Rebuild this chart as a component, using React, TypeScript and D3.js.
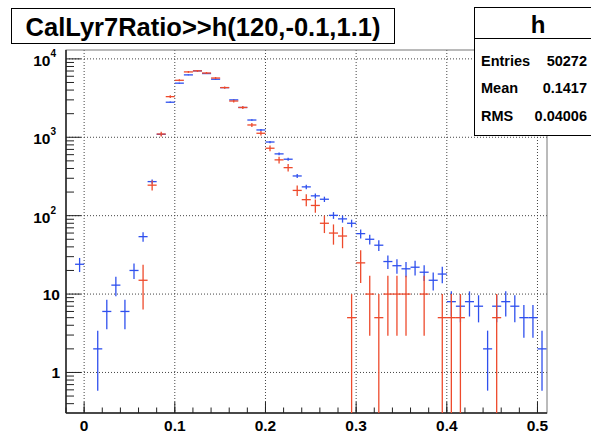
import React from "react";
import * as d3 from "d3";

const binCenters = [
  -0.005, 0.005, 0.015, 0.025, 0.035, 0.045, 0.055, 0.065, 0.075, 0.085,
  0.095, 0.105, 0.115, 0.125, 0.135, 0.145, 0.155, 0.165, 0.175, 0.185,
  0.195, 0.205, 0.215, 0.225, 0.235, 0.245, 0.255, 0.265, 0.275, 0.285,
  0.295, 0.305, 0.315, 0.325, 0.335, 0.345, 0.355, 0.365, 0.375, 0.385,
  0.395, 0.405, 0.415, 0.425, 0.435, 0.445, 0.455, 0.465, 0.475, 0.485,
  0.495, 0.505,
];
const binWidth = 0.01;

// blue histogram (unit weights)
const blueCounts: (number | null)[] = [
  24, null, 2, 6, 13, 6, 20, 54, 272, 1090,
  2800, 4900, 6250, 7030, 6500, 5500, 4300, 3000, 2400, 1660,
  1240, 870, 614, 525, 321, 233, 179, 162, 101, 91,
  80, 59, 50, 42, 26, 23, 21, 22, 19, 15,
  18, 8, 7, 8, 7, 2, 7, 8, 7, 5,
  5, 2,
];
// red histogram (weight 5 per entry)
const redWeight = 5;
const redCounts: (number | null)[] = [
  null, null, null, null, null, null, null, 15, 245, 1100,
  3300, 5330, 6820, 7030, 6600, 5700, 4300, 2900, 2400, 1435,
  1125, 725, 515, 410, 210, 160, 135, 80, 60, 55,
  5, 25, 10, 5, 10, 10, 10, null, 10, null,
  5, 5, 5, null, null, null, 5, null, null, null,
  null, null,
];

const xMajorTicks = [0, 0.1, 0.2, 0.3, 0.4, 0.5];
const xTickLabels = ["0", "0.1", "0.2", "0.3", "0.4", "0.5"];
const yDecades = [1, 10, 100, 1000, 10000];
const yTickLabels: [string, string][] = [["1", ""], ["10", ""], ["10", "2"], ["10", "3"], ["10", "4"]];

const titleText = "CalLyr7Ratio>>h(120,-0.1,1.1)";
const statsName = "h";
const statsRows: [string, string][] = [
  ["Entries", "50272"],
  ["Mean", "0.1417"],
  ["RMS", "0.04006"],
];

const W = 591;
const H = 433;
const FL = 66, FR = 547, FT = 50, FB = 413;
const FONT = "'Liberation Sans', Arial, Helvetica, sans-serif";
const BLUE = "#2f50ee";
const RED = "#ee4a2c";

export default function App() {
  const x = d3.scaleLinear().domain([-0.02, 0.5105]).range([FL, FR]);
  const y = d3.scaleLog().domain([0.304, 12980]).range([FB, FT]);
  const yMin = y.domain()[0];

  const xMinor: number[] = [];
  for (let i = -1; i <= 25; i++) xMinor.push(i * 0.02);
  const yMinor: number[] = [];
  [0.1, 1, 10, 100, 1000, 10000].forEach((d) => {
    for (let m = 2; m <= 9; m++) {
      const v = d * m;
      if (v >= yMin && v <= y.domain()[1]) yMinor.push(v);
    }
  });

  const drawSeries = (vals: (number | null)[], color: string, err: (v: number) => number) =>
    vals.map((v, i) => {
      if (v == null || v <= 0) return null;
      const c = binCenters[i];
      const e = err(v);
      const yc = y(v);
      const yTop = y(v + e);
      const yBot = v - e > yMin ? y(v - e) : FB;
      return (
        <g key={i} stroke={color} strokeWidth={1.3}>
          <line x1={x(c - binWidth / 2)} x2={x(c + binWidth / 2)} y1={yc} y2={yc} />
          <line x1={x(c)} x2={x(c)} y1={Math.max(yTop, FT)} y2={yBot} />
        </g>
      );
    });

  return (
    <svg width={W} height={H} style={{ position: "absolute", left: 0, top: 0, background: "#fff" }}
      fontFamily={FONT} fontWeight="bold">
      <rect x={0} y={0} width={W} height={H} fill="#fff" />
      {/* grid */}
      <g stroke="#444" strokeWidth={1} strokeDasharray="1 2">
        {xMajorTicks.map((t) => (
          <line key={"gx" + t} x1={x(t)} x2={x(t)} y1={FT} y2={FB} />
        ))}
        {yDecades.map((t) => (
          <line key={"gy" + t} x1={FL} x2={FR} y1={y(t)} y2={y(t)} />
        ))}
      </g>
      {/* frame */}
      <rect x={FL} y={FT} width={FR - FL} height={FB - FT} fill="none" stroke="#777" strokeWidth={1} />
      <line x1={FL} x2={FL} y1={FT} y2={FB} stroke="#222" strokeWidth={1.5} />
      <line x1={FL} x2={FR} y1={FB} y2={FB} stroke="#222" strokeWidth={1.5} />
      {/* ticks */}
      <g stroke="#222" strokeWidth={1}>
        {xMinor.map((t, i) => (
          <line key={"xm" + i} x1={x(t)} x2={x(t)} y1={FB} y2={FB - 5.5} />
        ))}
        {xMajorTicks.map((t) => (
          <line key={"xM" + t} x1={x(t)} x2={x(t)} y1={FB} y2={FB - 11} />
        ))}
        {yMinor.map((t, i) => (
          <line key={"ym" + i} x1={FL} x2={FL + 8} y1={y(t)} y2={y(t)} />
        ))}
        {yDecades.map((t) => (
          <line key={"yM" + t} x1={FL} x2={FL + 15} y1={y(t)} y2={y(t)} />
        ))}
      </g>
      {/* x labels */}
      <g fontSize={15.5} textAnchor="middle" fill="#000">
        {xMajorTicks.map((t, i) => (
          <text key={"xl" + t} x={x(t)} y={431}>{xTickLabels[i]}</text>
        ))}
      </g>
      {/* y labels */}
      <g fontSize={15.5} fill="#000">
        {yDecades.map((t, i) => {
          const [base, exp] = yTickLabels[i];
          if (!exp) {
            return (
              <text key={"yl" + t} x={60} y={y(t) + 5.5} textAnchor="end">{base}</text>
            );
          }
          return (
            <text key={"yl" + t} x={56} y={y(t) + 7} textAnchor="end">
              {base}
              <tspan fontSize={10} dy={-9}>{exp}</tspan>
            </text>
          );
        })}
      </g>
      {/* data */}
      {drawSeries(blueCounts, BLUE, (v) => Math.sqrt(v))}
      {drawSeries(redCounts, RED, (v) => Math.sqrt(v * redWeight))}
      {/* title */}
      <rect x={11.5} y={8.5} width={383} height={35} fill="#fff" stroke="#000" strokeWidth={1} />
      <text x={203} y={35.5} fontSize={25.5} textAnchor="middle" fill="#000">{titleText}</text>
      {/* stats box */}
      <rect x={474.5} y={7.5} width={130} height={128} fill="#fff" stroke="#000" strokeWidth={1} />
      <line x1={474.5} x2={W} y1={38.5} y2={38.5} stroke="#000" strokeWidth={1} />
      <text x={538} y={33} fontSize={24} textAnchor="middle" fill="#000">{statsName}</text>
      {statsRows.map(([k, v], i) => (
        <g key={k} fontSize={14.5} fill="#000">
          <text x={481} y={65.5 + i * 27.5}>{k}</text>
          <text x={587} y={65.5 + i * 27.5} textAnchor="end">{v}</text>
        </g>
      ))}
    </svg>
  );
}
